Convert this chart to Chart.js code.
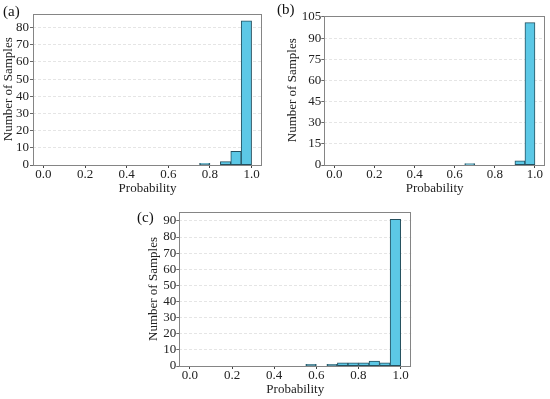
<!DOCTYPE html>
<html>
<head>
<meta charset="utf-8">
<script src="https://cdn.jsdelivr.net/npm/chart.js@4.4.1/dist/chart.umd.min.js"></script>
<style>
body { margin: 0; background: #fff; width: 550px; height: 399px; position: relative; overflow: hidden; font-family: 'Liberation Serif', 'Times New Roman', serif; }
canvas { position: absolute; }
.tag { position: absolute; font-size: 15px; line-height: 15px; color: #111; }
</style>
</head>
<body>
<canvas id="chartA" width="275" height="200" style="left:0;top:0"></canvas>
<canvas id="chartB" width="275" height="200" style="left:275px;top:0"></canvas>
<canvas id="chartC" width="290" height="199" style="left:130px;top:200px"></canvas>
<div class="tag" style="left:3px;top:4px">(a)</div>
<div class="tag" style="left:277px;top:2px">(b)</div>
<div class="tag" style="left:137px;top:210px">(c)</div>
<script>
// histogram bins, 0.05 wide (centre of each bin)
var binCenters = [0.025, 0.075, 0.125, 0.175, 0.225, 0.275, 0.325, 0.375, 0.425, 0.475,
                  0.525, 0.575, 0.625, 0.675, 0.725, 0.775, 0.825, 0.875, 0.925, 0.975];
var xTicks = [0, 0.2, 0.4, 0.6, 0.8, 1.0];
var xTickLabels = ['0.0', '0.2', '0.4', '0.6', '0.8', '1.0'];

// (a)
var countsA = [0, 0, 0, 0, 0, 0, 0, 0, 0, 0, 0, 0, 0, 0, 0, 1, 0, 2, 8, 84];
var yTicksA = [0, 10, 20, 30, 40, 50, 60, 70, 80];
// (b)
var countsB = [0, 0, 0, 0, 0, 0, 0, 0, 0, 0, 0, 0, 0, 1, 0, 0, 0, 0, 3, 101];
var yTicksB = [0, 15, 30, 45, 60, 75, 90, 105];
// (c)
var countsC = [0, 0, 0, 0, 0, 0, 0, 0, 0, 0, 0, 1, 0, 1, 2, 2, 2, 3, 2, 91];
var yTicksC = [0, 10, 20, 30, 40, 50, 60, 70, 80, 90];

Chart.defaults.font.family = "'Liberation Serif', 'Times New Roman', serif";
Chart.defaults.color = '#222';

// grey box round the plot area
var frame = {
    id: 'frame',
    afterDatasetsDraw: function (chart) {
        var a = chart.chartArea, ctx = chart.ctx
        ctx.save()
        ctx.strokeStyle = '#858585'
        ctx.lineWidth = 1
        ctx.strokeRect(Math.round(a.left) + 0.5, Math.round(a.top) + 0.5,
            Math.round(a.right) - Math.round(a.left) - 1, Math.round(a.bottom) - Math.round(a.top))
        ctx.restore()
    }
}

function drawHist(id, counts, yTicks, g) {
    var points = binCenters.map(function (c, i) { return { x: c, y: counts[i] } })
    return new Chart(document.getElementById(id), {
        type: 'bar',
        data: {
            datasets: [{
                data: points,
                backgroundColor: '#5cc8e6',
                borderColor: '#25505f',
                borderWidth: 1,
                borderSkipped: false,
                barPercentage: 1,
                categoryPercentage: 1
            }]
        },
        options: {
            responsive: false,
            animation: false,
            layout: { padding: { left: 0, top: g.top, right: g.right, bottom: 0 } },
            plugins: { legend: { display: false }, tooltip: { enabled: false } },
            scales: {
                x: {
                    type: 'linear', min: -0.05, max: 1.05, offset: false,
                    grid: { drawOnChartArea: false, offset: false, tickLength: 3, tickColor: '#444' },
                    border: { display: false },
                    ticks: {
                        autoSkip: false, maxRotation: 0, padding: 0,
                        font: { size: 13, lineHeight: 1 },
                        callback: function (v, i) { return xTickLabels[i] }
                    },
                    afterBuildTicks: function (s) { s.ticks = xTicks.map(function (v) { return { value: v } }) },
                    afterFit: function (s) { s.height = g.xh },
                    title: { display: true, text: 'Probability', font: { size: 13, lineHeight: 1 }, padding: { top: 0, bottom: g.xTitle } }
                },
                y: {
                    min: 0, max: Math.max.apply(null, counts) * 1.05,
                    grid: { color: '#dedede', lineWidth: 0.8, tickLength: 3, tickColor: '#444' },
                    border: { display: false, dash: [3, 2] },
                    ticks: { padding: g.yPad, font: { size: 13, lineHeight: 1 } },
                    afterBuildTicks: function (s) { s.ticks = yTicks.map(function (v) { return { value: v } }) },
                    afterFit: function (s) { s.width = g.yw },
                    title: { display: true, text: 'Number of Samples', font: { size: 13, lineHeight: 1 }, padding: { top: g.yTitle, bottom: 0 } }
                }
            }
        },
        plugins: [frame]
    })
}

drawHist('chartA', countsA, yTicksA, { top: 13.5, right: 13, yw: 33, xh: 35, yTitle: 2, xTitle: 5.2, yPad: 1 })
drawHist('chartB', countsB, yTicksB, { top: 15.5, right: 5, yw: 49.3, xh: 35, yTitle: 11.5, xTitle: 5.2, yPad: 0 })
drawHist('chartC', countsC, yTicksC, { top: 12, right: 8.8, yw: 49.3, xh: 33, yTitle: 17, xTitle: 2.5, yPad: 0 })
</script>
</body>
</html>
